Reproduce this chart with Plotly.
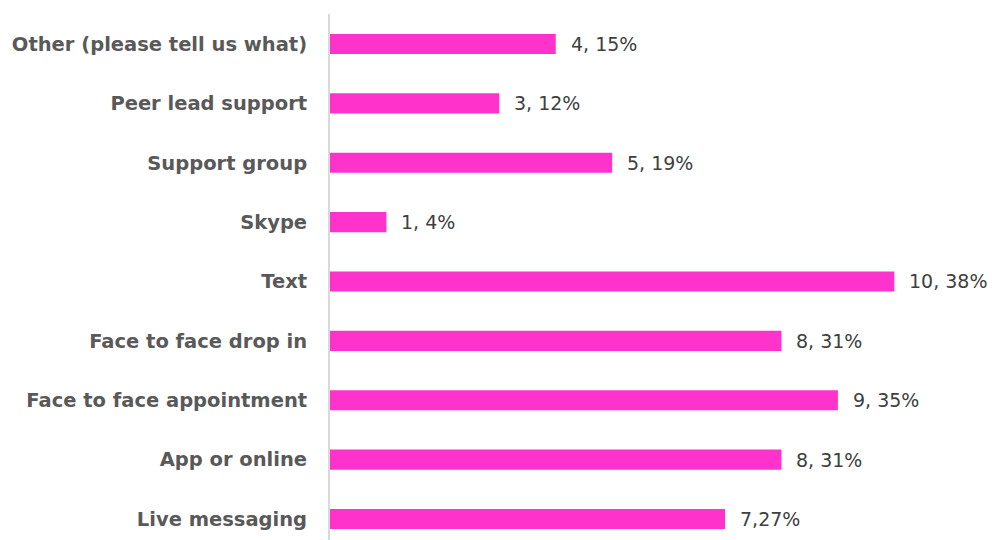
import plotly.graph_objects as go

categories = [
    "Live messaging",
    "App or online",
    "Face to face appointment",
    "Face to face drop in",
    "Text",
    "Skype",
    "Support group",
    "Peer lead support",
    "Other (please tell us what)",
]
counts = [7, 8, 9, 8, 10, 1, 5, 3, 4]
value_labels = ["7,27%", "8, 31%", "9, 35%", "8, 31%", "10, 38%",
                "1, 4%", "5, 19%", "3, 12%", "4, 15%"]

bar_color = "#FF33CC"

fig = go.Figure(
    go.Bar(
        x=counts,
        y=categories,
        orientation="h",
        marker=dict(color=bar_color, line=dict(width=0)),
        width=0.34,
        hoverinfo="skip",
    )
)

for cat, val, lab in zip(categories, counts, value_labels):
    fig.add_annotation(
        x=val, y=cat, text=lab, showarrow=False,
        xanchor="left", yanchor="middle", xshift=13,
        font=dict(family="DejaVu Sans", size=19, color="#404040"),
    )

fig.update_layout(
    width=992, height=540,
    margin=dict(l=330, r=13, t=14, b=0),
    paper_bgcolor="white", plot_bgcolor="white",
    showlegend=False,
    xaxis=dict(range=[0, 11.5], visible=False, fixedrange=True),
    yaxis=dict(
        type="category",
        categoryorder="array", categoryarray=categories,
        range=[-0.354, 8.505],
        showgrid=False, zeroline=False,
        showline=True, linecolor="#D9D9D9", linewidth=2,
        ticks="", ticklabelstandoff=17,
        tickfont=dict(family="DejaVu Sans", size=19.5, color="#595959", weight="bold"),
    ),
)

fig.write_html("out.html")
